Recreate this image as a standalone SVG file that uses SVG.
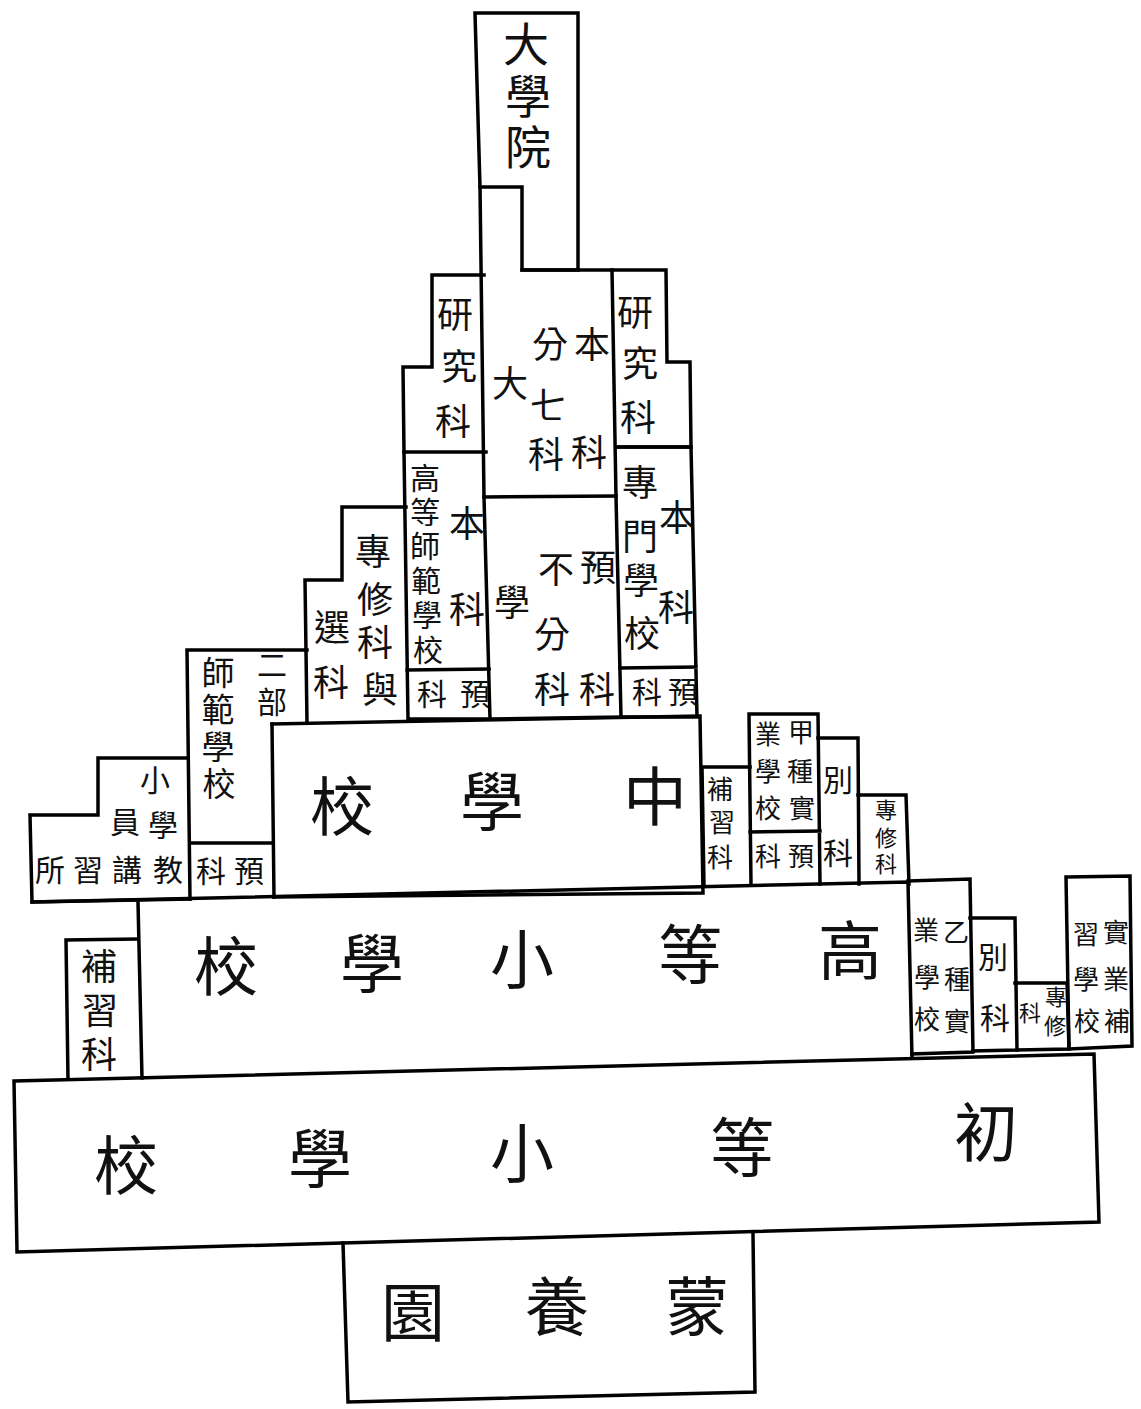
<svg xmlns="http://www.w3.org/2000/svg" width="1141" height="1409" viewBox="0 0 1141 1409">
<style>
.b{fill:none;stroke:#000;stroke-width:3.5;stroke-linejoin:miter;stroke-linecap:square}
.t{font-family:"Liberation Sans","Noto Sans CJK TC","Noto Sans CJK SC",sans-serif;fill:#111;text-anchor:middle;dominant-baseline:central}
.xl{font-size:64px}
.l{font-size:46px}
.m{font-size:36px}
.ms{font-size:33px}
.s{font-size:30px}
.xs{font-size:26px}
.xxs{font-size:22px}
</style>
<rect x="0" y="0" width="1141" height="1409" fill="#fff"/>

<g id="daxueyuan">
<path class="b" d="M475,13 L578,13 L578,270 L522,270 L522,187 L480,187 Z"/>
<text class="t l" x="526" y="45">大</text>
<text class="t l" x="528" y="97">學</text>
<text class="t l" x="528" y="148">院</text>
</g>

<g id="daxue-benke">
<path class="b" d="M480,187 L484,497 M522,270 L612,270 L616,496 M484,497 L616,496"/>
<text class="t m" x="592" y="345">本</text>
<text class="t m" x="550" y="345">分</text>
<text class="t m" x="510" y="384">大</text>
<text class="t m" x="548" y="406">七</text>
<text class="t m" x="546" y="455">科</text>
<text class="t m" x="589" y="453">科</text>
</g>

<g id="daxue-yuke">
<path class="b" d="M484,497 L490,719 L621,717 L616,496"/>
<text class="t m" x="598" y="568">預</text>
<text class="t m" x="556" y="570">不</text>
<text class="t m" x="512" y="603">學</text>
<text class="t m" x="552" y="635">分</text>
<text class="t m" x="552" y="690">科</text>
<text class="t m" x="597" y="690">科</text>
</g>

<g id="yanjiu-left">
<path class="b" d="M484,275 L432,275 L432,367 L403,367 L404,452 L486,452"/>
<text class="t m" x="455" y="315">研</text>
<text class="t m" x="459" y="367">究</text>
<text class="t m" x="453" y="422">科</text>
</g>

<g id="gaodeng-shifan">
<path class="b" d="M404,452 L408,719 L490,719 M407,670 L489,669"/>
<text class="t s" x="425" y="478">高</text>
<text class="t s" x="425" y="512">等</text>
<text class="t s" x="425" y="546">師</text>
<text class="t s" x="426" y="581">範</text>
<text class="t s" x="427" y="615">學</text>
<text class="t s" x="428" y="650">校</text>
<text class="t m" x="467" y="524">本</text>
<text class="t m" x="467" y="610">科</text>
<text class="t s" x="432" y="694">科</text>
<text class="t s" x="475" y="694">預</text>
</g>

<g id="yanjiu-right">
<path class="b" d="M612,270 L666,270 L667,362 L690,362 L691,447 L616,447"/>
<text class="t m" x="635" y="313">研</text>
<text class="t m" x="640" y="364">究</text>
<text class="t m" x="638" y="418">科</text>
</g>

<g id="zhuanmen">
<path class="b" d="M616,447 L691,447 L697,717 L621,717 M620,668 L696,667"/>
<text class="t m" x="640" y="483">專</text>
<text class="t m" x="640" y="537">門</text>
<text class="t m" x="641" y="581">學</text>
<text class="t m" x="642" y="634">校</text>
<text class="t m" x="677" y="518">本</text>
<text class="t m" x="676" y="608">科</text>
<text class="t s" x="647" y="692">科</text>
<text class="t s" x="683" y="692">預</text>
</g>

<g id="zhuanxiu-xuanke">
<path class="b" d="M406,507 L342,507 L342,580 L305,580 L307,722"/>
<text class="t m" x="373" y="552">專</text>
<text class="t m" x="375" y="600">修</text>
<text class="t m" x="375" y="643">科</text>
<text class="t m" x="380" y="690">與</text>
<text class="t m" x="332" y="628">選</text>
<text class="t m" x="331" y="683">科</text>
</g>

<g id="erbu-shifan">
<path class="b" d="M307,650 L187,650 L190,899 M272,724 L274,897 M190,843 L273,843"/>
<text class="t s" x="272" y="665">二</text>
<text class="t s" x="272" y="702">部</text>
<text class="t ms" x="218" y="673">師</text>
<text class="t ms" x="218" y="710">範</text>
<text class="t ms" x="218" y="747">學</text>
<text class="t ms" x="219" y="784">校</text>
<text class="t s" x="211" y="871">科</text>
<text class="t s" x="249" y="871">預</text>
</g>

<g id="xiaoxue-jiaoyuan">
<path class="b" d="M188,758 L98,758 L98,815 L30,815 L32,902 L190,899"/>
<text class="t s" x="155" y="780">小</text>
<text class="t s" x="163" y="825">學</text>
<text class="t s" x="168" y="870">教</text>
<text class="t s" x="125" y="822">員</text>
<text class="t s" x="127" y="870">講</text>
<text class="t s" x="88" y="870">習</text>
<text class="t s" x="50" y="870">所</text>
</g>

<g id="zhongxue">
<path class="b" d="M272,724 L700,716 L703,893 L274,897"/>
<text class="t xl" x="342" y="808">校</text>
<text class="t xl" x="492" y="803">學</text>
<text class="t xl" x="655" y="798">中</text>
</g>

<g id="buxi-mid">
<path class="b" d="M702,767 L750,767 M702,767 L704,886"/>
<text class="t xs" x="720" y="790">補</text>
<text class="t xs" x="722" y="823">習</text>
<text class="t xs" x="720" y="858">科</text>
</g>

<g id="jiazhong-shiye">
<path class="b" d="M749,714 L818,714 L820,884 M749,714 L751,885 M750,832 L820,831"/>
<text class="t xs" x="801" y="733">甲</text>
<text class="t xs" x="800" y="772">種</text>
<text class="t xs" x="802" y="809">實</text>
<text class="t xs" x="768" y="735">業</text>
<text class="t xs" x="768" y="772">學</text>
<text class="t xs" x="768" y="809">校</text>
<text class="t xs" x="768" y="857">科</text>
<text class="t xs" x="801" y="857">預</text>
</g>

<g id="bieke-mid">
<path class="b" d="M818,738 L858,738 L859,884"/>
<text class="t s" x="838" y="780">別</text>
<text class="t s" x="838" y="853">科</text>
</g>

<g id="zhuanxiu-mid">
<path class="b" d="M858,795 L906,795 L909,884"/>
<text class="t xxs" x="886" y="810">專</text>
<text class="t xxs" x="886" y="838">修</text>
<text class="t xxs" x="886" y="864">科</text>
</g>

<g id="gaodeng-xiaoxue">
<path class="b" d="M32,902 L908,882 L912,1058 M138,902 L142,1078"/>
<text class="t xl" x="226" y="968">校</text>
<text class="t xl" x="372" y="965">學</text>
<text class="t xl" x="522" y="961">小</text>
<text class="t xl" x="690" y="956">等</text>
<text class="t xl" x="850" y="952">高</text>
</g>

<g id="yizhong-shiye">
<path class="b" d="M908,881 L970,879 L973,1052 L912,1054"/>
<text class="t xs" x="956" y="933">乙</text>
<text class="t xs" x="957" y="980">種</text>
<text class="t xs" x="957" y="1022">實</text>
<text class="t xs" x="926" y="931">業</text>
<text class="t xs" x="927" y="978">學</text>
<text class="t xs" x="927" y="1020">校</text>
</g>

<g id="bieke-low">
<path class="b" d="M970,918 L1015,918 L1017,1050 L973,1051"/>
<text class="t s" x="993" y="957">別</text>
<text class="t s" x="995" y="1018">科</text>
</g>

<g id="zhuanxiu-low">
<path class="b" d="M1015,983 L1067,983 L1069,1049 L1017,1050"/>
<text class="t xxs" x="1056" y="997">專</text>
<text class="t xxs" x="1055" y="1026">修</text>
<text class="t xxs" x="1030" y="1013">科</text>
</g>

<g id="shiye-buxi">
<path class="b" d="M1066,877 L1130,876 L1132,1046 L1069,1049 Z"/>
<text class="t xs" x="1116" y="933">實</text>
<text class="t xs" x="1116" y="980">業</text>
<text class="t xs" x="1117" y="1022">補</text>
<text class="t xs" x="1086" y="935">習</text>
<text class="t xs" x="1086" y="980">學</text>
<text class="t xs" x="1087" y="1022">校</text>
</g>

<g id="buxi-left">
<path class="b" d="M138,939 L66,940 L68,1079"/>
<text class="t m" x="99" y="967">補</text>
<text class="t m" x="100" y="1011">習</text>
<text class="t m" x="99" y="1055">科</text>
</g>

<g id="chudeng-xiaoxue">
<path class="b" d="M14,1081 L1094,1054 L1099,1222 L17,1252 Z"/>
<text class="t xl" x="126" y="1167">校</text>
<text class="t xl" x="320" y="1160">學</text>
<text class="t xl" x="522" y="1155">小</text>
<text class="t xl" x="742" y="1149">等</text>
<text class="t xl" x="986" y="1134">初</text>
</g>

<g id="mengyang">
<path class="b" d="M343,1243 L348,1402 L755,1392 L753,1234"/>
<text class="t xl" x="413" y="1314">園</text>
<text class="t xl" x="557" y="1308">養</text>
<text class="t xl" x="697" y="1308">蒙</text>
</g>

<g id="connectors"></g>
</svg>
